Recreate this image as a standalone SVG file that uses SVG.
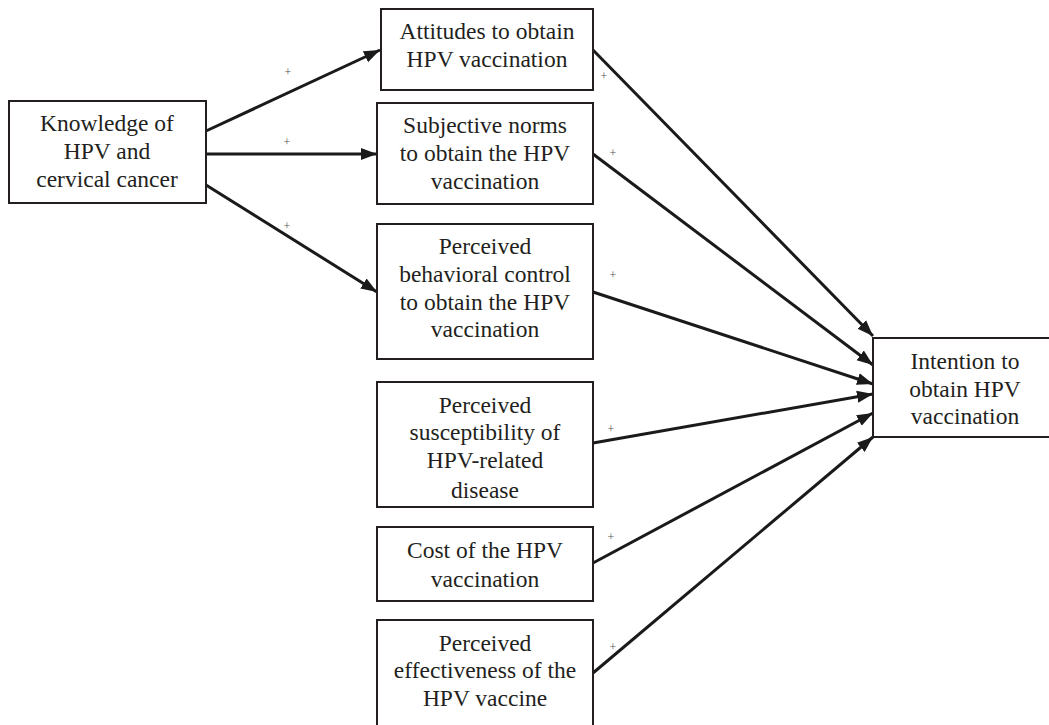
<svg xmlns="http://www.w3.org/2000/svg" width="1049" height="725" viewBox="0 0 1049 725">
<defs>
<style>
.box{fill:#fff;stroke:#231f20;stroke-width:2}
.t{font-family:"Liberation Serif","Times New Roman",serif;font-size:23.5px;fill:#231f20;text-anchor:middle}
.p{font-family:"Liberation Serif","Times New Roman",serif;font-size:12px;fill:#555;text-anchor:middle}
.c{stroke:#1a1a1a;stroke-width:3;fill:none}
</style>
<marker id="ah" markerUnits="userSpaceOnUse" markerWidth="18" markerHeight="14" refX="16" refY="7" orient="auto">
<path d="M0,1 L16,7 L0,13 Z" fill="#1a1a1a"/>
</marker>
</defs>
<rect width="1049" height="725" fill="#fff"/>
<g id="connectors">
<line class="c" x1="206" y1="131" x2="380" y2="50" marker-end="url(#ah)"/>
<line class="c" x1="206" y1="154" x2="377" y2="154" marker-end="url(#ah)"/>
<line class="c" x1="206" y1="185" x2="377" y2="292" marker-end="url(#ah)"/>
<line class="c" x1="593" y1="50" x2="873" y2="336" marker-end="url(#ah)"/>
<line class="c" x1="593" y1="154" x2="873" y2="365" marker-end="url(#ah)"/>
<line class="c" x1="593" y1="292" x2="873" y2="384" marker-end="url(#ah)"/>
<line class="c" x1="593" y1="443" x2="873" y2="394" marker-end="url(#ah)"/>
<line class="c" x1="593" y1="563" x2="873" y2="413" marker-end="url(#ah)"/>
<line class="c" x1="593" y1="673" x2="873" y2="437" marker-end="url(#ah)"/>
<text class="p" x="288" y="76">+</text>
<text class="p" x="287" y="146">+</text>
<text class="p" x="287" y="230">+</text>
<text class="p" x="604" y="80">+</text>
<text class="p" x="613" y="157">+</text>
<text class="p" x="613" y="279">+</text>
<text class="p" x="611" y="433">+</text>
<text class="p" x="611" y="541">+</text>
<text class="p" x="613" y="651">+</text>
</g>
<g id="knowledge">
<rect class="box" x="9" y="101" width="197" height="102"/>
<text class="t" x="107" y="131">Knowledge of</text>
<text class="t" x="107" y="159">HPV and</text>
<text class="t" x="107" y="187">cervical cancer</text>
</g>
<g id="attitudes">
<rect class="box" x="381" y="9" width="212" height="81"/>
<text class="t" x="487" y="39">Attitudes to obtain</text>
<text class="t" x="487" y="67">HPV vaccination</text>
</g>
<g id="norms">
<rect class="box" x="377" y="103" width="216" height="101"/>
<text class="t" x="485" y="133">Subjective norms</text>
<text class="t" x="485" y="161">to obtain the HPV</text>
<text class="t" x="485" y="189">vaccination</text>
</g>
<g id="control">
<rect class="box" x="377" y="224" width="216" height="135"/>
<text class="t" x="485" y="254">Perceived</text>
<text class="t" x="485" y="282">behavioral control</text>
<text class="t" x="485" y="310">to obtain the HPV</text>
<text class="t" x="485" y="337">vaccination</text>
</g>
<g id="susceptibility">
<rect class="box" x="377" y="382" width="216" height="125"/>
<text class="t" x="485" y="413">Perceived</text>
<text class="t" x="485" y="440">susceptibility of</text>
<text class="t" x="485" y="468">HPV-related</text>
<text class="t" x="485" y="498">disease</text>
</g>
<g id="cost">
<rect class="box" x="377" y="527" width="216" height="74"/>
<text class="t" x="485" y="558">Cost of the HPV</text>
<text class="t" x="485" y="587">vaccination</text>
</g>
<g id="effectiveness">
<rect class="box" x="377" y="620" width="216" height="115"/>
<text class="t" x="485" y="651">Perceived</text>
<text class="t" x="485" y="678">effectiveness of the</text>
<text class="t" x="485" y="706">HPV vaccine</text>
</g>
<g id="intention">
<rect class="box" x="873" y="338" width="185" height="99"/>
<text class="t" x="965" y="369">Intention to</text>
<text class="t" x="965" y="397">obtain HPV</text>
<text class="t" x="965" y="424">vaccination</text>
</g>
</svg>
